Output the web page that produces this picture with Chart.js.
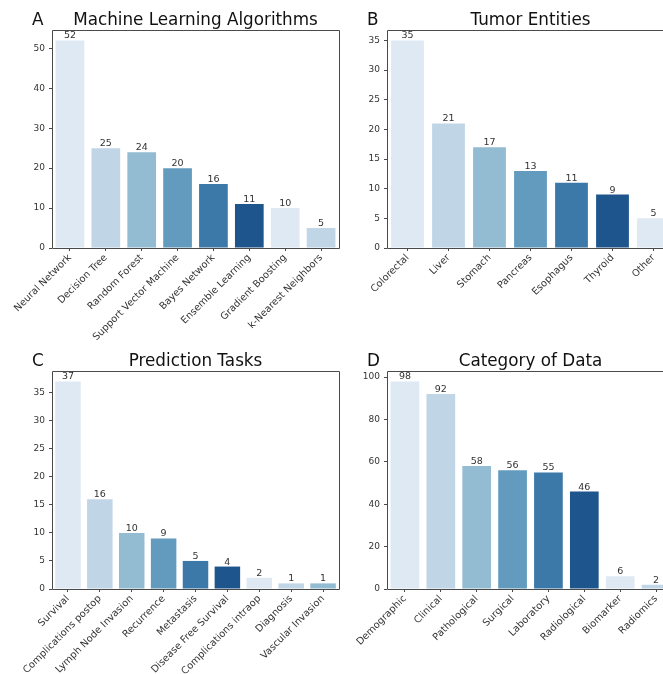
<!DOCTYPE html>
<html>
<head>
<meta charset="utf-8">
<script src="https://cdn.jsdelivr.net/npm/chart.js@4"></script>
<style>
  html, body { margin: 0; padding: 0; background: #fff; overflow: hidden; }
  #figure { position: relative; width: 663px; height: 674px; overflow: hidden; background: #fff; }
  canvas { position: absolute; }
</style>
</head>
<body>
<div id="figure">
<canvas id="panelA" width="345" height="350" style="left:0;top:0;width:345px;height:350px"></canvas>
<canvas id="panelB" width="360" height="350" style="left:335px;top:0;width:360px;height:350px"></canvas>
<canvas id="panelC" width="345" height="339" style="left:0;top:335px;width:345px;height:339px"></canvas>
<canvas id="panelD" width="360" height="339" style="left:335px;top:335px;width:360px;height:339px"></canvas>
</div>
<script>
// Counts per category for the four panels
const algorithmLabels = ['Neural Network', 'Decision Tree', 'Random Forest', 'Support Vector Machine',
  'Bayes Network', 'Ensemble Learning', 'Gradient Boosting', 'k-Nearest Neighbors'];
const algorithmCounts = [52, 25, 24, 20, 16, 11, 10, 5];

const tumorLabels = ['Colorectal', 'Liver', 'Stomach', 'Pancreas', 'Esophagus', 'Thyroid', 'Other'];
const tumorCounts = [35, 21, 17, 13, 11, 9, 5];

const taskLabels = ['Survival', 'Complications postop', 'Lymph Node Invasion', 'Recurrence', 'Metastasis',
  'Disease Free Survival', 'Complications intraop', 'Diagnosis', 'Vascular Invasion'];
const taskCounts = [37, 16, 10, 9, 5, 4, 2, 1, 1];

const dataLabels = ['Demographic', 'Clinical', 'Pathological', 'Surgical', 'Laboratory', 'Radiological',
  'Biomarker', 'Radiomics'];
const dataCounts = [98, 92, 58, 56, 55, 46, 6, 2];

// Six muted blues, repeated across the bars
const blues = ['#dee9f3', '#c0d5e5', '#93bbd2', '#629bbe', '#3d79a8', '#1e558d'];

const FONT = '"DejaVu Sans", "Liberation Sans", sans-serif';
const AXIS_COLOR = '#4a4a4a';
const TEXT_COLOR = '#333333';

// Axes frame, value labels and panel headings
const panelDecor = {
  id: 'panelDecor',
  afterDatasetsDraw(chart, args, opts) {
    const { ctx, chartArea: a } = chart;
    const L = Math.round(a.left) + 0.5, R = Math.round(a.right) + 0.5;
    const T = Math.round(a.top) + 0.5, B = Math.round(a.bottom) + 0.5;
    ctx.save();
    ctx.strokeStyle = AXIS_COLOR;
    ctx.lineWidth = 1;
    ctx.beginPath();
    ctx.moveTo(L, T); ctx.lineTo(R, T);
    ctx.moveTo(L, B); ctx.lineTo(R, B);
    ctx.moveTo(L, T); ctx.lineTo(L, B);
    if (opts.rightSpine) { ctx.moveTo(R, T); ctx.lineTo(R, B); }
    ctx.stroke();

    const values = chart.data.datasets[0].data;
    const meta = chart.getDatasetMeta(0);
    ctx.fillStyle = TEXT_COLOR;
    ctx.font = '9.5px ' + FONT;
    ctx.textAlign = 'center';
    ctx.textBaseline = 'alphabetic';
    meta.data.forEach((bar, i) => {
      ctx.fillText(String(values[i]), bar.x, bar.y - 2);
    });

    ctx.fillStyle = '#111';
    ctx.font = '16.8px ' + FONT;
    ctx.textAlign = 'center';
    ctx.fillText(opts.title, (a.left + a.right) / 2, opts.titleY);
    ctx.textAlign = 'left';
    ctx.fillText(opts.letter, opts.letterX, opts.titleY);
    ctx.restore();
  }
};

function makePanel(id, labels, counts, cfg) {
  const yMax = Math.max(...counts) * 1.05;
  return new Chart(document.getElementById(id), {
    type: 'bar',
    data: {
      labels: labels,
      datasets: [{
        data: counts,
        backgroundColor: counts.map((_, i) => blues[i % blues.length]),
        borderWidth: 0,
        barPercentage: 0.8,
        categoryPercentage: 1.0
      }]
    },
    plugins: [panelDecor],
    options: {
      responsive: false,
      animation: false,
      layout: { padding: { top: cfg.top, left: 0, right: cfg.right, bottom: 0 } },
      plugins: {
        legend: { display: false },
        tooltip: { enabled: false },
        title: { display: false },
        panelDecor: { title: cfg.title, letter: cfg.letter, letterX: 32, titleY: cfg.titleY,
          rightSpine: cfg.rightSpine }
      },
      scales: {
        x: {
          type: 'category',
          offset: true,
          grid: { display: true, drawOnChartArea: false, drawTicks: true, tickLength: 3,
            offset: false, color: AXIS_COLOR },
          border: { display: false },
          ticks: { autoSkip: false, maxRotation: 45, minRotation: 45, padding: 1,
            color: TEXT_COLOR, font: { family: FONT, size: 9.8 } },
          afterFit(scale) {
            scale.height = cfg.xHeight;
            scale.paddingLeft = 0;
            scale.paddingRight = 0;
          }
        },
        y: {
          min: 0,
          max: yMax,
          grid: { display: true, drawOnChartArea: false, drawTicks: true, tickLength: 3,
            color: AXIS_COLOR },
          border: { display: false },
          ticks: { stepSize: cfg.step, includeBounds: false, padding: 4,
            color: TEXT_COLOR, font: { family: FONT, size: 9 } },
          afterFit(scale) {
            scale.width = 52;
          }
        }
      }
    }
  });
}

// Right-hand panels run past the figure's clipped right edge, so their right spine is not drawn
makePanel('panelA', algorithmLabels, algorithmCounts,
  { title: 'Machine Learning Algorithms', letter: 'A', top: 30, right: 6, titleY: 25, xHeight: 102, step: 10, rightSpine: true });
makePanel('panelB', tumorLabels, tumorCounts,
  { title: 'Tumor Entities', letter: 'B', top: 30, right: 21, titleY: 25, xHeight: 102, step: 5, rightSpine: false });
makePanel('panelC', taskLabels, taskCounts,
  { title: 'Prediction Tasks', letter: 'C', top: 36, right: 6, titleY: 31, xHeight: 85, step: 5, rightSpine: true });
makePanel('panelD', dataLabels, dataCounts,
  { title: 'Category of Data', letter: 'D', top: 36, right: 21, titleY: 31, xHeight: 85, step: 20, rightSpine: false });
</script>
</body>
</html>
